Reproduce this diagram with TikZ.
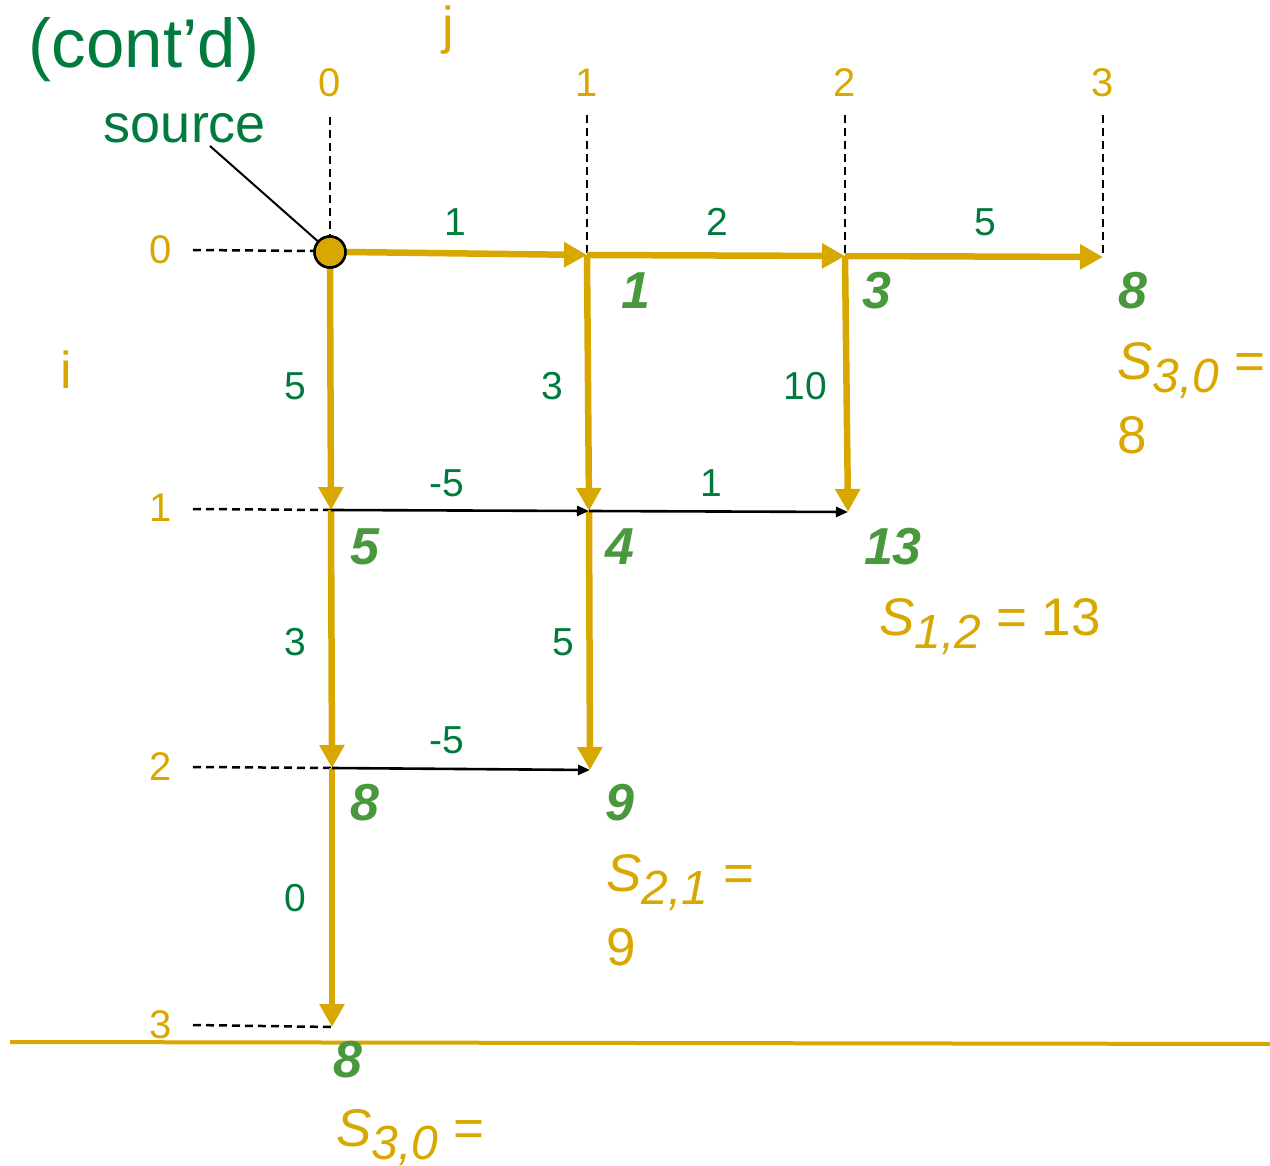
\documentclass[tikz,border=0pt]{standalone}
\usepackage{fontspec}
\setmainfont{Liberation Sans}
\usetikzlibrary{arrows.meta}
\definecolor{gold}{RGB}{217,168,0}
\definecolor{dgreen}{RGB}{0,122,61}
\definecolor{lgreen}{RGB}{74,152,62}
\newcommand{\Sname}[1]{{\itshape S}\raisebox{-13pt}{\fontsize{48}{48}\selectfont\itshape #1}}
\tikzset{
  yarrow/.style={draw=gold,line width=6.5pt,-{Triangle[length=23pt,width=24pt]}},
  barrow/.style={draw=black,line width=2.6pt,-{Triangle[length=12pt,width=10pt]}},
  guide/.style={draw=black,line width=2.5pt,dash pattern=on 8pt off 5pt},
  wt/.style={text=dgreen,inner sep=0pt,font=\fontsize{39}{39}\selectfont},
  idx/.style={text=gold,inner sep=0pt,font=\fontsize{40}{40}\selectfont},
  axn/.style={text=gold,inner sep=0pt,font=\fontsize{52}{52}\selectfont},
  val/.style={text=lgreen,inner sep=0pt,font=\fontsize{52}{52}\selectfont\bfseries\itshape},
  sv/.style={text=gold,inner sep=0pt,align=left,font=\fontsize{53}{74}\selectfont},
}
\begin{document}
\begin{tikzpicture}[x=1pt,y=-1pt]
\useasboundingbox (0,0) rectangle (1270,1166);

% title and axis names
\node[text=dgreen,inner sep=0pt,font=\fontsize{69}{69}\selectfont] (title) at (144,50) {(cont’d)};
\node[text=dgreen,inner sep=0pt,font=\fontsize{54}{54}\selectfont] (srclbl) at (185,128) {source};
\node[axn] (jlbl) at (448,30) {j};
\node[axn] (ilbl) at (66,370) {i};

% column / row indices
\node[idx] (c0) at (330,83) {0};
\node[idx] (c1) at (587,83) {1};
\node[idx] (c2) at (845,83) {2};
\node[idx] (c3) at (1103,83) {3};
\node[idx] (r0) at (161,250) {0};
\node[idx] (r1) at (161,508) {1};
\node[idx] (r2) at (161,767) {2};
\node[idx] (r3) at (161,1025) {3};

% grid points
\coordinate (g01) at (587,255);
\coordinate (g02) at (845,256);
\coordinate (g03) at (1103,257);
\coordinate (g10) at (331,510);
\coordinate (g11) at (589,511);
\coordinate (g12) at (848,512);
\coordinate (g20) at (332,768);
\coordinate (g21) at (590,770);
\coordinate (g30) at (332,1027);

% guide line ends
\coordinate (d0t) at (330,117);
\coordinate (d0b) at (330,237);
\coordinate (d1t) at (587,115);
\coordinate (d2t) at (845,115);
\coordinate (d3t) at (1103,115);
\coordinate (h0a) at (193,250);
\coordinate (h0b) at (314,251);
\coordinate (h1a) at (193,509);
\coordinate (h2a) at (193,767);
\coordinate (h3a) at (193,1025);
\coordinate (lead0) at (210,146);
\coordinate (bl) at (10,1042);
\coordinate (br) at (1270,1044);

% dashed guides
\draw[guide] (d0t) -- (d0b);
\draw[guide] (d1t) -- (g01);
\draw[guide] (d2t) -- (g02);
\draw[guide] (d3t) -- (g03);
\draw[guide] (h0a) -- (h0b);
\draw[guide] (h1a) -- (g10);
\draw[guide] (h2a) -- (g20);
\draw[guide] (h3a) -- (g30);

% source node
\node[circle,draw=black,fill=gold,line width=2.5pt,minimum size=31pt,inner sep=0pt] (src) at (330,252) {};

% yellow path edges
\draw[yarrow] (src.south) -- (g10);
\draw[yarrow] (g01) -- (g11);
\draw[yarrow] (g02) -- (g12);
\draw[yarrow] (g10) -- (g20);
\draw[yarrow] (g11) -- (g21);
\draw[yarrow] (g20) -- (g30);
\draw[yarrow] (src.east) -- (g01);
\draw[yarrow] (g01) -- (g02);
\draw[yarrow] (g02) -- (g03);

% black edges
\draw[barrow] (g10) -- (g11);
\draw[barrow] (g11) -- (g12);
\draw[barrow] (g20) -- (g21);

% redraw source on top
\node[circle,draw=black,fill=gold,line width=2.5pt,minimum size=31pt,inner sep=0pt] (srctop) at (330,252) {};
\draw[black,line width=2pt] (lead0) -- (srctop);

% bottom line
\draw[gold,line width=4pt] (bl) -- (br);

% edge weights
\node[wt] (w1) at (455,222) {1};
\node[wt] (w2) at (717,222) {2};
\node[wt] (w3) at (985,222) {5};
\node[wt] (w4) at (295,386) {5};
\node[wt] (w5) at (552,386) {3};
\node[wt] (w6) at (805,386) {10};
\node[wt] (w7) at (447,483) {-5};
\node[wt] (w8) at (711,483) {1};
\node[wt] (w9) at (295,642) {3};
\node[wt] (w10) at (563,642) {5};
\node[wt] (w11) at (447,740) {-5};
\node[wt] (w12) at (295,898) {0};

% cell values
\node[val] (v01) at (636,291) {1};
\node[val] (v02) at (877,291) {3};
\node[val] (v03) at (1133,291) {8};
\node[val] (v10) at (365,547) {5};
\node[val] (v11) at (620,547) {4};
\node[val] (v12) at (893,547) {13};
\node[val] (v20) at (365,803) {8};
\node[val] (v21) at (620,803) {9};
\node[val] (v30) at (348,1060) {8};

% score labels
\node[sv,anchor=west] (s30a) at (1117,398) {\Sname{3,0} =\\8};
\node[sv,anchor=base west] (s12) at (879,635) {\Sname{1,2} = 13};
\node[sv,anchor=west] (s21) at (606,910) {\Sname{2,1} =\\9};
\node[sv,anchor=base west] (s30b) at (336,1146) {\Sname{3,0} =};
\end{tikzpicture}
\end{document}
